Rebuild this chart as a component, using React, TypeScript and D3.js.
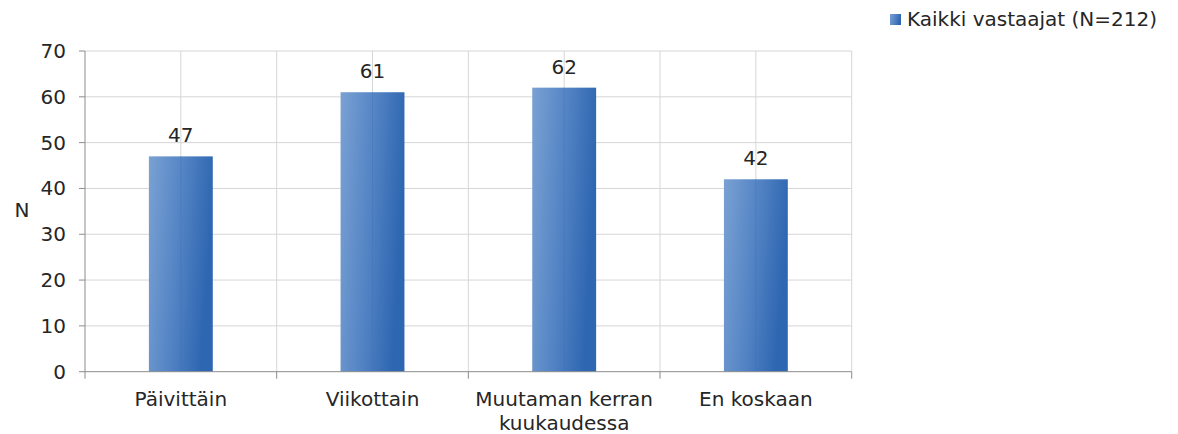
import React from "react";
import * as d3 from "d3";

const categories: string[][] = [
  ["Päivittäin"],
  ["Viikottain"],
  ["Muutaman kerran", "kuukaudessa"],
  ["En koskaan"],
];
const values: number[] = [47, 61, 62, 42];
const yTicks: number[] = [0, 10, 20, 30, 40, 50, 60, 70];
const seriesName = "Kaikki vastaajat (N=212)";
const yLabel = "N";

const W = 1178;
const H = 434;
const left = 85;
const right = 851.7;
const top = 51;
const bottom = 371.7;
const font = "Verdana, 'DejaVu Sans', sans-serif";
const textColor = "#262626";
const fs = 20;

export default function App() {
  const x = d3
    .scaleBand<number>()
    .domain(values.map((_, i) => i))
    .range([left, right])
    .paddingInner(0)
    .paddingOuter(0);
  const y = d3.scaleLinear().domain([0, 70]).range([bottom, top]);
  const bw = x.bandwidth();
  const barW = bw / 3;
  const halfLines = d3.range(1, values.length * 2 + 1).map((k) => left + (k * bw) / 2);
  const boundaries = d3.range(0, values.length + 1).map((k) => left + k * bw);

  return (
    <svg
      width={W}
      height={H}
      style={{ position: "absolute", left: 0, top: 0, background: "#fff" }}
      fontFamily={font}
    >
      <defs>
        <linearGradient id="barGrad" x1="0" y1="0" x2="1" y2="0.25">
          <stop offset="0" stopColor="#7aa1d3" />
          <stop offset="0.5" stopColor="#5585c5" />
          <stop offset="1" stopColor="#2e66b1" />
        </linearGradient>
      </defs>
      {yTicks.slice(1).map((t) => (
        <line key={"h" + t} x1={left} x2={right} y1={y(t)} y2={y(t)} stroke="#d6d6d6" strokeWidth={1} />
      ))}
      {halfLines.map((gx, i) => (
        <line key={"v" + i} x1={gx} x2={gx} y1={top} y2={bottom} stroke="#d6d6d6" strokeWidth={1} />
      ))}
      {values.map((v, i) => {
        const cx = (x(i) as number) + bw / 2;
        return (
          <g key={"b" + i}>
            <rect x={cx - barW / 2} y={y(v)} width={barW} height={bottom - y(v)} fill="url(#barGrad)" />
            <line x1={cx} x2={cx} y1={y(v)} y2={bottom} stroke="#3f6fb0" strokeOpacity={0.35} strokeWidth={1} />
            <text x={cx} y={y(v) - 14} textAnchor="middle" fontSize={fs} fill={textColor}>
              {v}
            </text>
          </g>
        );
      })}
      <line x1={left} x2={left} y1={top} y2={bottom} stroke="#8c8c8c" strokeWidth={1} />
      {yTicks.map((t) => (
        <g key={"yt" + t}>
          <line x1={left - 6} x2={left} y1={y(t)} y2={y(t)} stroke="#8c8c8c" />
          <text x={left - 19} y={y(t) + 7} textAnchor="end" fontSize={fs} fill={textColor}>
            {t}
          </text>
        </g>
      ))}
      <text x={22} y={217} textAnchor="middle" fontSize={fs} fill={textColor}>
        {yLabel}
      </text>
      <line x1={left} x2={right} y1={bottom} y2={bottom} stroke="#8c8c8c" strokeWidth={1} />
      {boundaries.map((bx, i) => (
        <line key={"xt" + i} x1={bx} x2={bx} y1={bottom} y2={bottom + 7} stroke="#8c8c8c" />
      ))}
      {categories.map((lines, i) => {
        const cx = (x(i) as number) + bw / 2;
        return (
          <text key={"c" + i} textAnchor="middle" fontSize={fs} fill={textColor}>
            {lines.map((ln, j) => (
              <tspan key={j} x={cx} y={406 + j * 24}>
                {ln}
              </tspan>
            ))}
          </text>
        );
      })}
      <rect x={890} y={14} width={11} height={11} fill="url(#barGrad)" />
      <text x={907} y={26} fontSize={fs} fill={textColor}>
        {seriesName}
      </text>
    </svg>
  );
}
